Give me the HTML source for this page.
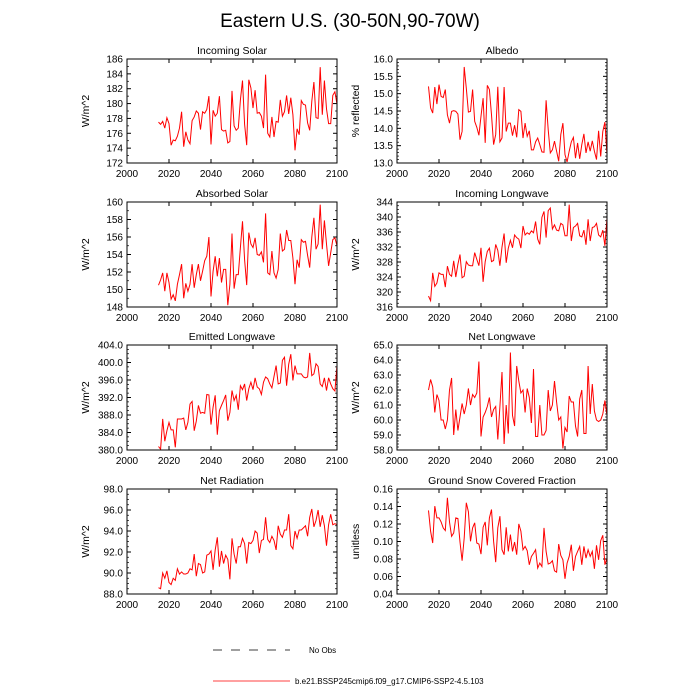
<!DOCTYPE html>
<html><head><meta charset="utf-8"><style>
body{margin:0;background:#fff;}
svg{display:block;font-family:"Liberation Sans",sans-serif;}
</style></head><body>
<svg id="chart" width="700" height="700" viewBox="0 0 700 700">
<text x="350" y="27" font-size="19" text-anchor="middle">Eastern U.S. (30-50N,90-70W)</text>
<g>
<line x1="213" y1="650" x2="290" y2="650" stroke="#000" stroke-width="0.8" stroke-dasharray="9,9"/>
<text x="309" y="653" font-size="8">No Obs</text>
<line x1="213" y1="681" x2="290" y2="681" stroke="#f00" stroke-width="0.8"/>
<text x="295" y="684" font-size="8">b.e21.BSSP245cmip6.f09_g17.CMIP6-SSP2-4.5.103</text>
</g>
</svg>
<script>
const xTicks=[2000,2020,2040,2060,2080,2100];
const incomingSolar=[177.5,177.2,177.6,176.7,178.1,177.3,174.4,175.1,175.0,175.6,176.7,178.9,174.2,176.2,175.1,174.6,177.7,178.2,179.0,178.7,176.5,178.9,178.7,179.2,181.0,174.5,179.1,178.3,178.7,181.0,176.5,176.3,176.4,174.7,174.9,181.7,177.0,176.4,176.7,180.5,183.1,177.2,174.4,183.2,182.1,179.4,181.8,178.7,178.8,178.3,176.7,183.9,176.0,175.5,178.2,175.5,177.6,177.5,180.5,178.3,178.9,181.1,178.6,180.8,178.5,173.7,176.6,175.8,180.4,179.9,179.8,177.4,176.4,180.3,182.9,178.1,178.0,184.9,178.5,183.1,179.3,177.3,177.3,181.1,181.6,179.9];
const albedo=[15.21,14.59,14.44,15.19,14.70,15.26,14.92,14.89,15.12,14.39,14.15,14.49,14.51,14.49,14.41,13.67,13.91,15.77,15.16,14.47,14.49,15.12,14.20,14.03,13.80,14.35,14.87,13.58,15.24,15.12,14.39,13.53,13.82,15.20,13.61,13.72,15.19,13.91,14.15,14.15,13.79,14.09,13.74,14.54,14.49,13.72,14.15,13.77,13.93,13.38,13.38,13.61,13.72,13.53,13.32,13.31,14.81,13.96,13.29,13.38,13.63,13.34,13.05,13.82,14.15,13.24,13.03,13.34,13.61,13.74,13.14,13.58,13.12,13.53,13.84,13.29,13.61,13.34,13.64,13.34,13.10,13.93,13.19,13.91,14.18,13.24];
const absorbedSolar=[150.5,151.1,151.9,149.8,151.9,150.8,148.9,149.4,148.7,150.6,151.7,152.9,149.0,150.7,149.8,150.6,152.9,150.2,151.7,152.9,151.0,152.1,153.3,153.8,156.0,149.2,152.1,153.8,151.5,153.6,150.8,152.3,152.3,148.2,150.6,156.4,150.1,151.7,151.7,154.8,157.8,153.4,150.5,156.5,155.2,154.8,155.9,154.0,153.9,154.3,153.1,158.7,151.9,151.7,154.4,151.9,151.3,152.3,156.4,154.4,154.6,156.8,155.6,155.6,153.6,150.6,153.4,152.5,155.7,155.4,155.5,153.9,152.5,156.0,158.2,154.6,155.2,159.7,154.6,157.9,155.2,152.7,154.2,155.7,155.9,155.0];
const incomingLW=[318.9,317.7,325.1,321.5,322.4,325.1,324.7,324.7,321.3,326.9,324.7,324.2,328.3,324.0,327.4,330.0,323.8,324.2,328.1,327.2,327.0,327.0,330.5,328.7,327.0,331.8,322.7,328.1,330.8,331.7,328.1,328.4,332.7,331.1,327.0,332.0,335.6,327.8,331.7,333.8,331.8,335.2,334.5,334.1,331.7,337.6,335.2,335.8,335.4,336.3,335.8,338.8,334.1,332.7,339.9,341.5,334.5,341.7,342.4,336.8,337.9,336.5,336.3,338.3,337.9,335.0,335.0,343.3,333.6,337.2,337.6,338.3,335.0,334.7,336.5,332.6,339.4,333.6,337.2,337.4,338.3,335.2,334.7,336.5,332.3,339.7];
const emittedLW=[380.8,380.2,387.1,382.0,384.4,386.3,384.6,384.6,380.6,387.1,387.1,387.1,387.3,384.6,386.3,390.5,391.1,384.4,386.6,390.2,388.4,388.6,388.4,392.7,392.6,385.8,389.8,392.5,383.5,389.0,390.2,391.3,392.6,386.7,388.6,393.6,391.3,392.5,389.2,394.7,393.8,395.1,391.3,394.0,395.5,393.8,396.5,394.4,394.0,392.7,395.5,396.7,396.3,395.1,394.2,396.8,399.3,395.1,395.3,400.5,401.2,394.7,399.6,401.9,395.9,399.3,397.4,397.4,397.4,396.7,396.5,396.7,402.2,397.0,397.4,399.7,399.1,395.1,394.5,396.5,393.6,396.5,395.1,394.0,393.5,399.3];
const netLW=[62.0,62.7,62.2,60.5,61.7,61.3,60.0,60.0,59.4,60.0,62.0,62.8,59.0,60.7,59.3,60.2,61.1,60.4,61.0,62.1,61.0,61.7,61.5,61.8,63.9,58.9,60.2,60.5,60.9,61.5,60.2,60.7,60.9,58.7,60.9,63.2,58.4,61.0,59.1,64.5,60.3,59.6,63.6,62.6,61.8,62.0,60.5,62.1,61.5,59.8,63.4,58.9,58.9,61.0,59.0,59.0,59.3,62.0,60.6,61.0,62.6,61.2,60.0,60.2,58.1,59.5,59.2,61.6,61.2,61.2,59.6,58.9,61.4,62.0,59.1,59.1,63.6,60.4,62.4,60.6,60.0,59.9,60.0,60.4,61.3,60.3];
const netRad=[88.6,88.5,90.0,89.5,90.2,89.1,88.9,89.5,89.3,90.4,89.9,90.1,89.9,89.9,90.0,90.4,90.3,91.8,89.7,90.9,90.8,90.0,90.1,91.7,91.8,92.1,90.3,92.2,93.4,90.6,92.1,90.9,91.7,91.3,89.4,93.3,91.8,90.9,92.5,92.5,93.3,92.8,90.9,92.9,92.8,93.1,94.0,93.8,91.9,93.1,93.2,95.3,93.2,92.9,93.5,93.1,92.2,94.5,93.7,93.4,94.1,94.1,95.6,92.6,92.3,94.0,93.3,94.1,94.1,94.3,94.5,93.5,95.3,96.1,94.4,95.0,96.0,94.4,95.5,94.5,92.6,94.6,95.6,94.6,94.7,94.6];
const snowFrac=[0.1355,0.1117,0.0983,0.1404,0.127,0.127,0.1224,0.1155,0.1125,0.150,0.1224,0.1059,0.1098,0.127,0.1263,0.0994,0.078,0.104,0.1443,0.134,0.1002,0.1155,0.1213,0.0983,0.0971,0.0856,0.1163,0.1224,0.0956,0.127,0.1366,0.1002,0.0764,0.1155,0.1289,0.0906,0.0849,0.1163,0.0887,0.1079,0.0887,0.0994,0.0849,0.1201,0.1117,0.0906,0.0944,0.0895,0.0734,0.0829,0.0864,0.0906,0.0696,0.0753,0.0714,0.1155,0.0887,0.0742,0.0753,0.078,0.0665,0.065,0.0971,0.0841,0.0791,0.0573,0.0753,0.0829,0.0964,0.0665,0.0829,0.0887,0.0944,0.0734,0.0944,0.081,0.0906,0.0829,0.0887,0.0688,0.0956,0.0791,0.1009,0.1071,0.0734,0.081];
const yTicks1=[172,174,176,178,180,182,184,186];
const yTicks2=[13.0,13.5,14.0,14.5,15.0,15.5,16.0];
const yTicks3=[148,150,152,154,156,158,160];
const yTicks4=[316,320,324,328,332,336,340,344];
const yTicks5=[380,384,388,392,396,400,404];
const yTicks6=[58,59,60,61,62,63,64,65];
const yTicks7=[88,90,92,94,96,98];
const yTicks8=[0.04,0.06,0.08,0.10,0.12,0.14,0.16];

const NS='http://www.w3.org/2000/svg';
const svg=document.getElementById('chart');
function mk(tag,attrs,parent){const e=document.createElementNS(NS,tag);for(const k in attrs)e.setAttribute(k,attrs[k]);(parent||svg).appendChild(e);return e;}
const panels=[
 {title:'Incoming Solar',yl:'W/m^2',data:incomingSolar,ticks:yTicks1,dec:0,x0:127,y0:59,y1:163,minor:2},
 {title:'Albedo',yl:'% reflected',data:albedo,ticks:yTicks2,dec:1,x0:397,y0:59,y1:163,minor:5},
 {title:'Absorbed Solar',yl:'W/m^2',data:absorbedSolar,ticks:yTicks3,dec:0,x0:127,y0:202,y1:307,minor:2},
 {title:'Incoming Longwave',yl:'W/m^2',data:incomingLW,ticks:yTicks4,dec:0,x0:397,y0:202,y1:307,minor:4},
 {title:'Emitted Longwave',yl:'W/m^2',data:emittedLW,ticks:yTicks5,dec:1,x0:127,y0:345,y1:450,minor:4},
 {title:'Net Longwave',yl:'W/m^2',data:netLW,ticks:yTicks6,dec:1,x0:397,y0:345,y1:450,minor:5},
 {title:'Net Radiation',yl:'W/m^2',data:netRad,ticks:yTicks7,dec:1,x0:127,y0:489,y1:594,minor:4},
 {title:'Ground Snow Covered Fraction',yl:'unitless',data:snowFrac,ticks:yTicks8,dec:2,x0:397,y0:489,y1:594,minor:4}
];
panels.forEach((p,pi)=>{
 const W=210,x1=p.x0+W;
 const ymin=p.ticks[0],ymax=p.ticks[p.ticks.length-1];
 const xs=v=>p.x0+(v-2000)/100*W;
 const ys=v=>p.y1-(v-ymin)/(ymax-ymin)*(p.y1-p.y0);
 const g=mk('g',{});
 
 
 const t=mk('text',{x:p.x0+W/2,y:p.y0-5,'font-size':'10.5','text-anchor':'middle'},g);t.textContent=p.title;
 
 
 const yt=mk('text',{transform:`translate(${p.x0-38},${(p.y0+p.y1)/2}) rotate(-90)`,'font-size':'10.5','text-anchor':'middle'},g);yt.textContent=p.yl;
 
 
 // y ticks
 const step=(p.ticks[1]-p.ticks[0]);
 p.ticks.forEach((v,i)=>{
  const y=ys(v);
  mk('line',{x1:p.x0,y1:y,x2:p.x0+4,y2:y,stroke:'#000','stroke-width':1},g);
  mk('line',{x1:x1,y1:y,x2:x1-4,y2:y,stroke:'#000','stroke-width':1},g);
  const l=mk('text',{x:p.x0-4,y:y+3.5,'font-size':'10','text-anchor':'end'},g);l.textContent=v.toFixed(p.dec);
  
  
  if(i<p.ticks.length-1){for(let m=1;m<p.minor;m++){const ym=ys(v+step*m/p.minor);
   mk('line',{x1:p.x0,y1:ym,x2:p.x0+2,y2:ym,stroke:'#000','stroke-width':0.7},g);
   mk('line',{x1:x1,y1:ym,x2:x1-2,y2:ym,stroke:'#000','stroke-width':0.7},g);}}
 });
 xTicks.forEach(v=>{
  const x=xs(v);
  mk('line',{x1:x,y1:p.y1,x2:x,y2:p.y1-4,stroke:'#000','stroke-width':1},g);
  mk('line',{x1:x,y1:p.y0,x2:x,y2:p.y0+4,stroke:'#000','stroke-width':1},g);
  const l=mk('text',{x:x,y:p.y1+14,'font-size':'10','text-anchor':'middle'},g);l.textContent=v;
  
  
 });
 const n=p.data.length;
 const pts=p.data.map((v,i)=>xs(2015+i*85/(n-1)).toFixed(2)+','+ys(v).toFixed(2)).join(' ');
 const line=mk('polyline',{points:pts,fill:'none',stroke:'#f00','stroke-width':1},g);
 
 
 const r=mk('rect',{x:p.x0,y:p.y0,width:W,height:p.y1-p.y0,fill:'none',stroke:'#000','stroke-width':1},g);
 
 
});
</script>
</body></html>
